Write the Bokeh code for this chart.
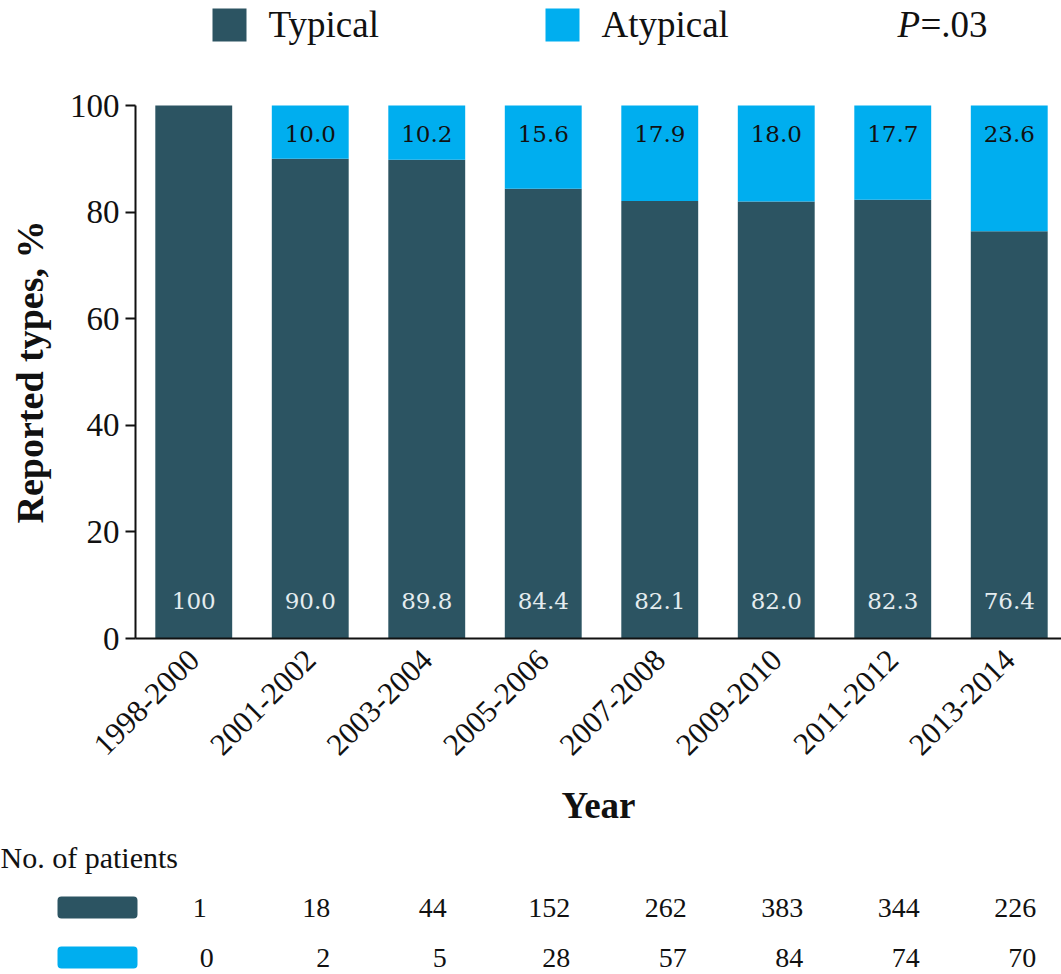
from math import pi

from bokeh.core.properties import value
from bokeh.embed import file_html
from bokeh.models import ColumnDataSource, FixedTicker, LinearAxis, Range1d
from bokeh.plotting import figure
from bokeh.resources import INLINE

# ---- data -------------------------------------------------------------
periods = ["1998-2000", "2001-2002", "2003-2004", "2005-2006",
           "2007-2008", "2009-2010", "2011-2012", "2013-2014"]
typical_pct = [100, 90.0, 89.8, 84.4, 82.1, 82.0, 82.3, 76.4]
atypical_pct = [0, 10.0, 10.2, 15.6, 17.9, 18.0, 17.7, 23.6]
typical_n = [1, 18, 44, 152, 262, 383, 344, 226]
atypical_n = [0, 2, 5, 28, 57, 84, 74, 70]
y_ticks = [0, 20, 40, 60, 80, 100]
series_names = ["Typical", "Atypical"]
p_label = "P"
p_value_text = "=.03"
table_title = "No. of patients"

# ---- style ------------------------------------------------------------
DARK = "#2c5462"
LIGHT = "#00aeef"
INK = "#111111"
SERIF = "Liberation Serif"
BAR_FONT = "DejaVu Serif"

W, H = 1061, 974
AXIS_PX = 135        # canvas column of the value axis
ZERO_PX = 638        # canvas row of the zero line
TOP_PX = 105         # canvas row of 100 %
CAT_PX = 116.5       # pixels per category
Y_PX = (ZERO_PX - TOP_PX) / 100.0

# the frame spans the whole canvas; the axes sit at fixed locations inside it
x_lo = -0.5 - AXIS_PX / CAT_PX
x_hi = -0.5 + (W - AXIS_PX) / CAT_PX
y_hi = 100 + TOP_PX / Y_PX
y_lo = -(H - ZERO_PX) / Y_PX


def cx(px):
    """canvas column -> x coordinate"""
    return x_lo + px / CAT_PX


def cy(py):
    """canvas row -> y coordinate"""
    return y_hi - py / Y_PX


def fmt_pct(v):
    return f"{v:.0f}" if v >= 100 else f"{v:.1f}"


x = list(range(len(periods)))
src = ColumnDataSource(dict(
    x=x,
    typical=typical_pct,
    atypical=atypical_pct,
    typ_lbl=[fmt_pct(v) for v in typical_pct],
))
top_idx = [i for i, v in enumerate(atypical_pct) if v > 0]
top_src = ColumnDataSource(dict(
    x=[x[i] for i in top_idx],
    lbl=[fmt_pct(atypical_pct[i]) for i in top_idx],
))

p = figure(width=W, height=H, x_range=Range1d(x_lo, x_hi), y_range=Range1d(y_lo, y_hi),
           x_axis_type=None, y_axis_type=None,
           output_backend="svg", toolbar_location=None,
           min_border=0, min_border_left=0, min_border_right=0,
           min_border_top=0, min_border_bottom=0)
p.outline_line_color = None
p.grid.visible = False

# ---- axes -------------------------------------------------------------
yaxis = LinearAxis(ticker=FixedTicker(ticks=y_ticks), bounds=(0, 100), fixed_location=-0.5)
yaxis.axis_label = "Reported types, %"
yaxis.axis_label_text_font = SERIF
yaxis.axis_label_text_font_style = "bold"
yaxis.axis_label_text_font_size = "38px"
yaxis.axis_label_text_color = INK
yaxis.axis_label_standoff = 16
yaxis.major_label_text_font = SERIF
yaxis.major_label_text_font_size = "33px"
yaxis.major_label_text_color = INK
yaxis.major_label_standoff = 6
yaxis.major_tick_out = 10
yaxis.major_tick_in = 0
yaxis.major_tick_line_width = 2
yaxis.major_tick_line_color = INK
yaxis.minor_tick_line_color = None
yaxis.axis_line_width = 2
yaxis.axis_line_color = INK
p.add_layout(yaxis, "left")

xaxis = LinearAxis(ticker=FixedTicker(ticks=x), bounds=(-0.5, x_hi), fixed_location=0,
                   major_label_overrides={i: lab for i, lab in zip(x, periods)})
xaxis.axis_label = "Year"
xaxis.axis_label_text_font = SERIF
xaxis.axis_label_text_font_style = "bold"
xaxis.axis_label_text_font_size = "37px"
xaxis.axis_label_text_color = INK
xaxis.axis_label_standoff = 18
xaxis.major_label_orientation = pi / 4
xaxis.major_label_text_font = SERIF
xaxis.major_label_text_font_size = "31px"
xaxis.major_label_text_color = INK
xaxis.major_label_standoff = 10
xaxis.major_tick_line_color = None
xaxis.minor_tick_line_color = None
xaxis.axis_line_width = 2
xaxis.axis_line_color = INK
p.add_layout(xaxis, "below")

# ---- stacked bars with values -----------------------------------------
p.vbar_stack(["typical", "atypical"], x="x", width=0.66,
             color=[DARK, LIGHT], line_color=None, source=src)

p.text(x="x", y=7, text="typ_lbl", source=src,
       text_align="center", text_baseline="middle",
       text_font=value(BAR_FONT), text_font_size="23px", text_color="#e4ecef")
p.text(x="x", y=94.7, text="lbl", source=top_src,
       text_align="center", text_baseline="middle",
       text_font=value(BAR_FONT), text_font_size="23px", text_color=INK)

# ---- legend and P value along the top -------------------------------------
key_left = [212, 545]
head_row = 24
p.quad(left=[cx(k) for k in key_left], right=[cx(k + 34) for k in key_left],
       top=[cy(8)] * 2, bottom=[cy(41)] * 2, color=[DARK, LIGHT], line_color=None)
p.text(x=[cx(k + 56) for k in key_left], y=[cy(head_row)] * 2, text=series_names,
       text_font=value(SERIF), text_font_size="37px", text_color=INK,
       text_baseline="middle", text_align="left")
p.text(x=[cx(897)], y=[cy(head_row)], text=[p_label], text_font=value(SERIF),
       text_font_size="37px", text_font_style="italic", text_color=INK,
       text_baseline="middle")
p.text(x=[cx(920)], y=[cy(head_row)], text=[p_value_text], text_font=value(SERIF),
       text_font_size="37px", text_color=INK, text_baseline="middle")

# ---- patient counts table ---------------------------------------------------
p.text(x=[cx(0)], y=[cy(857)], text=[table_title], text_font=value(SERIF),
       text_font_size="30px", text_color=INK, text_baseline="middle",
       text_align="left")

row_px = [907, 957]
# swatches: a filled box with a thick round-joined outline gives soft corners
inset = 4
p.quad(left=[cx(57 + inset)] * 2, right=[cx(137 - inset)] * 2,
       top=[cy(r - 11 + inset) for r in row_px], bottom=[cy(r + 11 - inset) for r in row_px],
       fill_color=[DARK, LIGHT], line_color=[DARK, LIGHT],
       line_width=2 * inset, line_join="round")

p.text(x=x, y=[cy(row_px[0])] * len(x), text=[str(v) for v in typical_n],
       x_offset=6, text_align="center", text_baseline="middle",
       text_font=value(SERIF), text_font_size="28px", text_color=INK)
p.text(x=x, y=[cy(row_px[1])] * len(x), text=[str(v) for v in atypical_n],
       x_offset=13, text_align="center", text_baseline="middle",
       text_font=value(SERIF), text_font_size="28px", text_color=INK)

open("out.html", "w").write(file_html(p, INLINE))
